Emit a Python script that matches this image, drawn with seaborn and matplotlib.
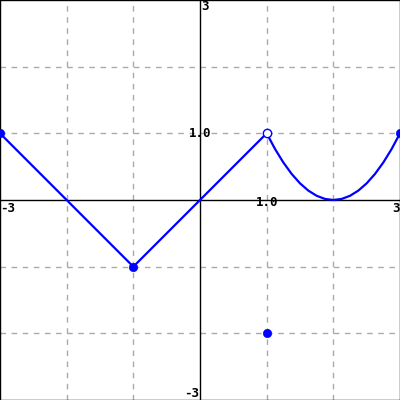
import matplotlib
matplotlib.use("Agg")
import matplotlib.pyplot as plt
import seaborn as sns

# piecewise graph values
v_x = [-3, -1, 1]
v_y = [1, -1, 1]
par_x = [1, 1.125, 1.25, 1.375, 1.5, 1.625, 1.75, 1.875, 2,
         2.125, 2.25, 2.375, 2.5, 2.625, 2.75, 2.875, 3]
par_y = [1, 0.766, 0.563, 0.391, 0.25, 0.141, 0.063, 0.016, 0,
         0.016, 0.063, 0.141, 0.25, 0.391, 0.563, 0.766, 1]
closed_x = [-3, -1, 3, 1]
closed_y = [1, -1, 1, -2]
open_x = [1]
open_y = [1]

BLUE = "#0000ff"

sns.set_style("white")
fig = plt.figure(figsize=(4, 4), dpi=100)
ax = fig.add_axes([0, 0, 1, 1])
ax.set_xlim(-3, 3)
ax.set_ylim(-3, 3)

# dashed grid every 1 unit
for g in [-2, -1, 1, 2]:
    ax.axvline(g, color="#aaaaaa", ls=(0, (4, 4)), lw=1, zorder=0)
    ax.axhline(g, color="#aaaaaa", ls=(0, (4, 4)), lw=1, zorder=0)
ax.axhline(0, color="black", lw=1, zorder=1)
ax.axvline(0, color="black", lw=1, zorder=1)

sns.lineplot(x=v_x, y=v_y, sort=False, color=BLUE, lw=1.6, ax=ax, zorder=2)
sns.lineplot(x=par_x, y=par_y, sort=False, color=BLUE, lw=1.6, ax=ax, zorder=2)
sns.scatterplot(x=closed_x, y=closed_y, color=BLUE, s=36, edgecolor=BLUE,
                ax=ax, zorder=3, clip_on=False)
sns.scatterplot(x=open_x, y=open_y, color="white", s=36, edgecolor=BLUE,
                linewidth=1, ax=ax, zorder=3)

for s in ax.spines.values():
    s.set_color("black")
    s.set_linewidth(1)
ax.set_xticks([])
ax.set_yticks([])

tf = dict(family="DejaVu Sans Mono", fontsize=9, fontweight="bold", color="black")
ax.text(0.02, 3.0, "3", ha="left", va="top", **tf)
ax.text(-0.02, -3.0, "-3", ha="right", va="bottom", **tf)
ax.text(-3.0, -0.03, "-3", ha="left", va="top", **tf)
ax.text(3.0, -0.03, "3", ha="right", va="top", **tf)
ax.text(0.0, 1.0, "1.0", ha="center", va="center", **tf)
ax.text(1.0, -0.03, "1.0", ha="center", va="center", **tf)

fig.savefig("out.png", dpi=100)
